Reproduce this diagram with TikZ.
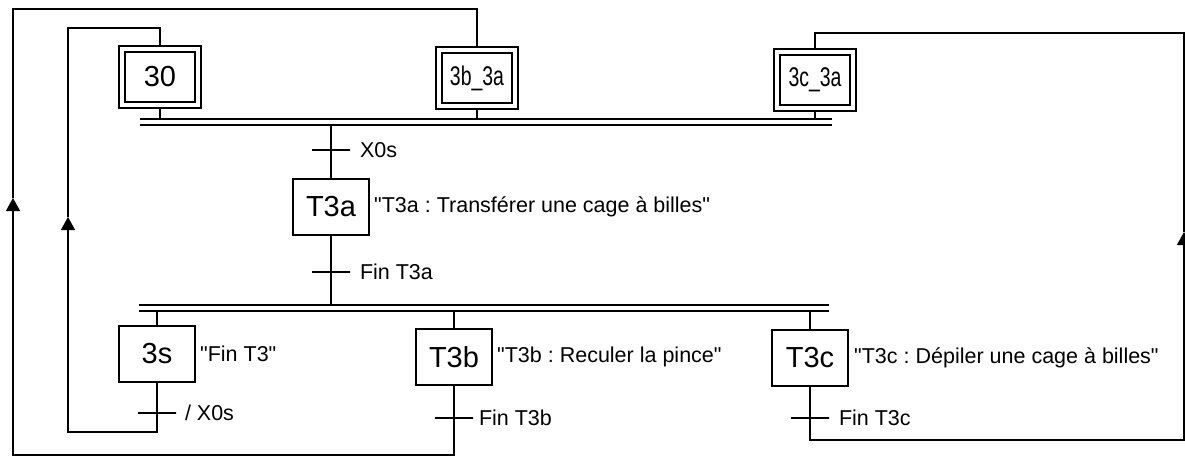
\documentclass[tikz,border=0pt]{standalone}
\usepackage{fontspec}
\setmainfont{Liberation Sans}[Ligatures=TeXOff]
\newfontfamily\condfont{Liberation Sans}[FakeStretch=0.72,Ligatures=TeXOff]
\frenchspacing
\usetikzlibrary{arrows.meta,positioning}
\tikzset{
  etape/.style={draw,line width=2pt,minimum width=76pt,minimum height=56pt,inner sep=0pt,font=\fontsize{29}{30}\selectfont},
  etapeinit/.style={etape,double,double distance=3.4pt,outer sep=3pt},
  transi/.style={draw,line width=1.6pt,minimum width=38pt,minimum height=0pt,inner sep=0pt},
  lbl/.style={inner sep=0pt,font=\fontsize{21.5}{24}\selectfont},
  flow/.style={line width=1.4pt},
  fleche/.style={flow,-{Triangle[length=13pt,width=14pt]}},
  barre/.style={line width=2pt},
}
\begin{document}
\begin{tikzpicture}[x=1pt,y=-1pt]
\useasboundingbox (0,0) rectangle (1185,457);
% etapes initiales
\node[etapeinit] (e30) at (160,77) {30};
\node[etapeinit,font=\fontsize{27}{28}\condfont] (e3b) at (477,78) {3b\_3a};
\node[etapeinit,font=\fontsize{27}{28}\condfont] (e3c) at (815,80) {3c\_3a};
% convergence en ET
\coordinate (syncA) at (140,119);
\coordinate (syncB) at (140,125);
\draw[barre] (syncA) -- ++(692,0);
\draw[barre] (syncB) -- ++(692,0);
\foreach \e in {e30,e3b,e3c}{\draw[flow] (\e.south) -- (\e.south |- syncA);}
% T3a
\node[etape] (T3a) at (331,207) {T3a};
\node[lbl,right=4pt of T3a] (dT3a) {"T3a : Transférer une cage à billes"};
\node[transi] (tX0s) at (331,150) {};
\node[lbl,right=9pt of tX0s] (lX0s) {X0s};
\node[transi] (tT3a) at (331,272) {};
\node[lbl,right=9pt of tT3a] (lT3a) {Fin T3a};
\draw[flow] (T3a.north |- syncB) -- (T3a.north);
% divergence en ET
\coordinate (syncC) at (139,305);
\coordinate (syncD) at (139,311);
\draw[barre] (syncC) -- ++(690,0);
\draw[barre] (syncD) -- ++(690,0);
\draw[flow] (T3a.south) -- (T3a.south |- syncC);
\node[etape] (e3s) at (157,354) {3s};
\node[etape] (T3b) at (454,357) {T3b};
\node[etape] (T3c) at (810,358) {T3c};
\foreach \e in {e3s,T3b,T3c}{\draw[flow] (\e.north |- syncD) -- (\e.north);}
\node[lbl,right=4pt of e3s] (de3s) {"Fin T3"};
\node[lbl,right=4pt of T3b] (dT3b) {"T3b : Reculer la pince"};
\node[lbl,right=5pt of T3c] (dT3c) {"T3c : Dépiler une cage à billes"};
\node[transi] (t3s) at (157,413) {};
\node[lbl,right=8pt of t3s] (l3s) {/ X0s};
\node[transi] (tT3b) at (454,418) {};
\node[lbl,right=5pt of tT3b] (lT3b) {Fin T3b};
\node[transi] (tT3c) at (810,418) {};
\node[lbl,right=9pt of tT3c] (lT3c) {Fin T3c};
% retours
\coordinate (bA) at (68,432);
\coordinate (hA) at (68,217);
\coordinate (tA) at (68,28);
\draw[fleche] (e3s.south) |- (bA) -- (hA);
\draw[flow] (hA) -- (tA) -| (e30.north);
\coordinate (bB) at (13,455);
\coordinate (hB) at (13,198);
\coordinate (tB) at (13,9);
\draw[fleche] (T3b.south) |- (bB) -- (hB);
\draw[flow] (hB) -- (tB) -| (e3b.north);
\coordinate (bC) at (1184,440);
\coordinate (hC) at (1184,232);
\coordinate (tC) at (1184,33);
\draw[fleche] (T3c.south) |- (bC) -- (hC);
\draw[flow] (hC) -- (tC) -| (e3c.north);
\end{tikzpicture}
\end{document}
